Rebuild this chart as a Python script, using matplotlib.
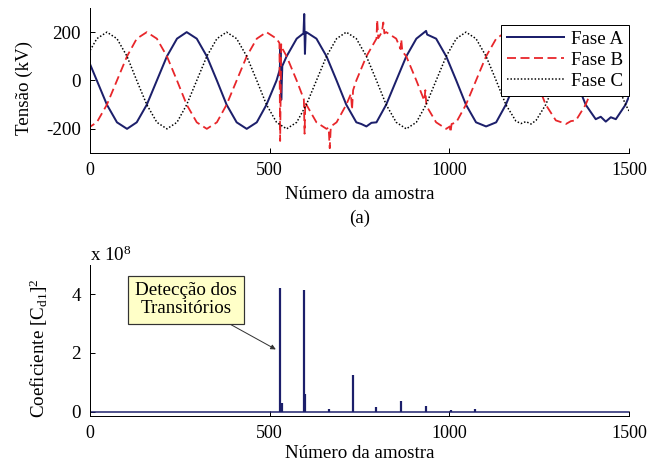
"""Three-phase voltages with transients and the squared detail coefficient."""

import matplotlib
matplotlib.use("Agg")
import matplotlib.pyplot as plt
from matplotlib.ticker import FuncFormatter

# ---- data ----
phase_a_x = [-9, 19, 47, 75, 103, 130, 158, 186, 214, 242, 269, 297, 325, 353, 380,
             408, 436, 464, 491, 519, 528, 530, 532, 535, 547, 575, 594, 596, 598, 600,
             602, 630, 658, 686, 713, 741, 755, 769, 783, 797, 824, 852, 880, 908, 935,
             938, 963, 991, 1019, 1046, 1074, 1102, 1130, 1157, 1185, 1213, 1241, 1268,
             1296, 1324, 1352, 1379, 1407, 1421, 1435, 1449, 1463, 1490, 1518]
phase_a_y = [100, 0, -100, -173, -200, -173, -100, 0, 100, 173, 200, 173, 100, 0, -100,
             -173, -200, -173, -100, 0, 45, 130, -80, 60, 100, 173, 195, 275, 110, 200,
             200, 173, 100, 0, -100, -173, -180, -190, -175, -173, -100, 0, 100, 173, 205,
             190, 173, 100, 0, -100, -173, -190, -173, -100, 0, 100, 173, 200,
             173, 100, 0, -100, -160, -150, -170, -152, -160, -100, 0]

phase_b_x = [-9, 19, 47, 75, 103, 130, 158, 186, 214, 242, 269, 297, 325, 353, 380,
             408, 436, 464, 491, 519, 527, 529, 532, 536, 547, 575, 595, 597, 599, 602,
             630, 658, 664, 667, 670, 686, 713, 726, 729, 732, 741, 769, 797, 799, 802,
             812, 816, 819, 824, 852, 864, 866, 869, 880, 908, 930, 933, 936, 963, 991,
             1001, 1003, 1006, 1019, 1046, 1074, 1102, 1130, 1157, 1185, 1213, 1241, 1268,
             1296, 1310, 1324, 1338, 1352, 1379, 1407, 1435, 1463, 1490, 1518]
phase_b_y = [-200, -173, -100, 0, 100, 173, 200, 173, 100, 0, -100, -173, -200, -173, -100,
             0, 100, 173, 200, 173, 155, -250, 150, 130, 100, 0, -78, -220, -90, -100,
             -173, -200, -195, -280, -190, -173, -100, -55, -120, -40, 0, 100, 173, 250, 175,
             200, 240, 195, 200, 173, 130, 170, 120, 100, 0, -83, -40, -105, -173, -200,
             -190, -215, -180, -173, -100, 0, 100, 173, 200, 173, 100, 0, -100,
             -165, -172, -180, -168, -165, -100, 0, 100, 173, 200, 173]

phase_c_x = [-9, 19, 47, 75, 103, 130, 158, 186, 214, 242, 269, 297, 325, 353, 380,
             408, 436, 464, 491, 519, 547, 575, 602, 630, 658, 686, 713, 741, 769, 797,
             824, 852, 880, 908, 935, 963, 991, 1019, 1046, 1074, 1102, 1130, 1157, 1185,
             1199, 1213, 1227, 1241, 1268, 1296, 1324, 1352, 1379, 1407, 1435, 1463, 1490, 1518]
phase_c_y = [100, 173, 200, 173, 100, 0, -100, -173, -200, -173, -100, 0, 100, 173, 200,
             173, 100, 0, -100, -173, -200, -173, -100, 0, 100, 173, 200, 173, 100, 0,
             -100, -173, -200, -173, -100, 0, 100, 173, 200, 173, 100, 0, -100, -168,
             -178, -170, -180, -165, -100, 0, 100, 173, 200, 173, 100, 0, -100, -173]

phase_labels = ["Fase A", "Fase B", "Fase C"]

coef_spike_x = [528, 535, 594, 598, 664, 731, 797, 866, 935, 1003, 1070]
coef_spike_y = [4.2e8, 0.3e8, 4.15e8, 0.6e8, 0.1e8, 1.25e8, 0.15e8, 0.35e8, 0.2e8, 0.05e8, 0.1e8]

x_ticks = [0, 500, 1000, 1500]
volt_ticks = [-200, 0, 200]
coef_ticks = [0, 2e8, 4e8]

NAVY = "#1c1f6b"
RED = "#e8262a"


def main() -> None:
    plt.rcParams["font.family"] = ["Liberation Serif", "DejaVu Serif"]
    plt.rcParams["mathtext.fontset"] = "custom"
    plt.rcParams["mathtext.rm"] = "Liberation Serif"
    plt.rcParams["mathtext.it"] = "Liberation Serif:italic"
    plt.rcParams["axes.unicode_minus"] = False
    fs = 19

    fig = plt.figure(figsize=(9, 6.5), dpi=72)
    ax1 = fig.add_axes([0.1389, 0.673, 0.832, 0.310])
    ax2 = fig.add_axes([0.1389, 0.111, 0.832, 0.323])

    # (a) phase voltages
    ax1.plot(phase_a_x, phase_a_y, color=NAVY, lw=2.0, label=phase_labels[0])
    ax1.plot(phase_b_x, phase_b_y, color=RED, lw=1.8, dashes=(5, 2.5), label=phase_labels[1])
    ax1.plot(phase_c_x, phase_c_y, color="black", lw=1.5, dashes=(1, 1.3), label=phase_labels[2])
    ax1.set_xlim(0, 1500)
    ax1.set_ylim(-300, 300)
    ax1.set_xticks(x_ticks)
    ax1.set_yticks(volt_ticks)
    ax1.set_xlabel("Número da amostra", fontsize=fs, labelpad=7)
    ax1.set_ylabel("Tensão (kV)", fontsize=fs)
    ax1.yaxis.set_label_coords(-0.105, 0.45)
    ax1.text(0.5, -0.45, "(a)", transform=ax1.transAxes, ha="center", va="center", fontsize=fs)
    leg = ax1.legend(loc="upper right", bbox_to_anchor=(1.0, 0.885), borderaxespad=0,
                     fontsize=fs, handlelength=3.0, labelspacing=0.2, handletextpad=0.4,
                     borderpad=0.3, fancybox=False, framealpha=1, edgecolor="black")
    leg.get_frame().set_linewidth(1.0)

    # (b) squared detail coefficient
    ax2.plot([0, 1500], [0, 0], color=NAVY, lw=1.5)
    ax2.vlines(coef_spike_x, 0, coef_spike_y, color=NAVY, lw=2.2)
    ax2.set_xlim(0, 1500)
    ax2.set_ylim(-0.15e8, 5e8)
    ax2.set_xticks(x_ticks)
    ax2.set_yticks(coef_ticks)
    ax2.yaxis.set_major_formatter(FuncFormatter(lambda v, _: f"{v / 1e8:g}"))
    ax2.set_xlabel("Número da amostra", fontsize=fs, labelpad=3)
    ax2.set_ylabel(r"Coeficiente [C$_{\rm d1}$]$^2$", fontsize=fs)
    ax2.yaxis.set_label_coords(-0.074, 0.45)
    ax2.text(0.0, 1.0, r"x 10$^8$", transform=ax2.transAxes, ha="left", va="bottom",
             fontsize=fs)
    ax2.annotate("Detecção dos\nTransitórios", xy=(517, 2.12e8), xytext=(267, 3.81e8),
                 ha="center", va="center", fontsize=fs, linespacing=1.1,
                 bbox=dict(boxstyle="square,pad=0.35", fc="#ffffc8", ec="#333333", lw=1.2),
                 arrowprops=dict(arrowstyle="-|>", color="#333333", lw=1.0,
                                 mutation_scale=10, shrinkA=0, shrinkB=0))

    for ax in (ax1, ax2):
        ax.spines["top"].set_visible(False)
        ax.spines["right"].set_visible(False)
        for side in ("left", "bottom"):
            ax.spines[side].set_linewidth(1.0)
        ax.tick_params(direction="in", length=5, width=1, labelsize=fs, pad=9)
        ax.tick_params(axis="x", labelsize=18)

    fig.savefig("out.png", dpi=72)
    plt.close(fig)


if __name__ == "__main__":
    main()
